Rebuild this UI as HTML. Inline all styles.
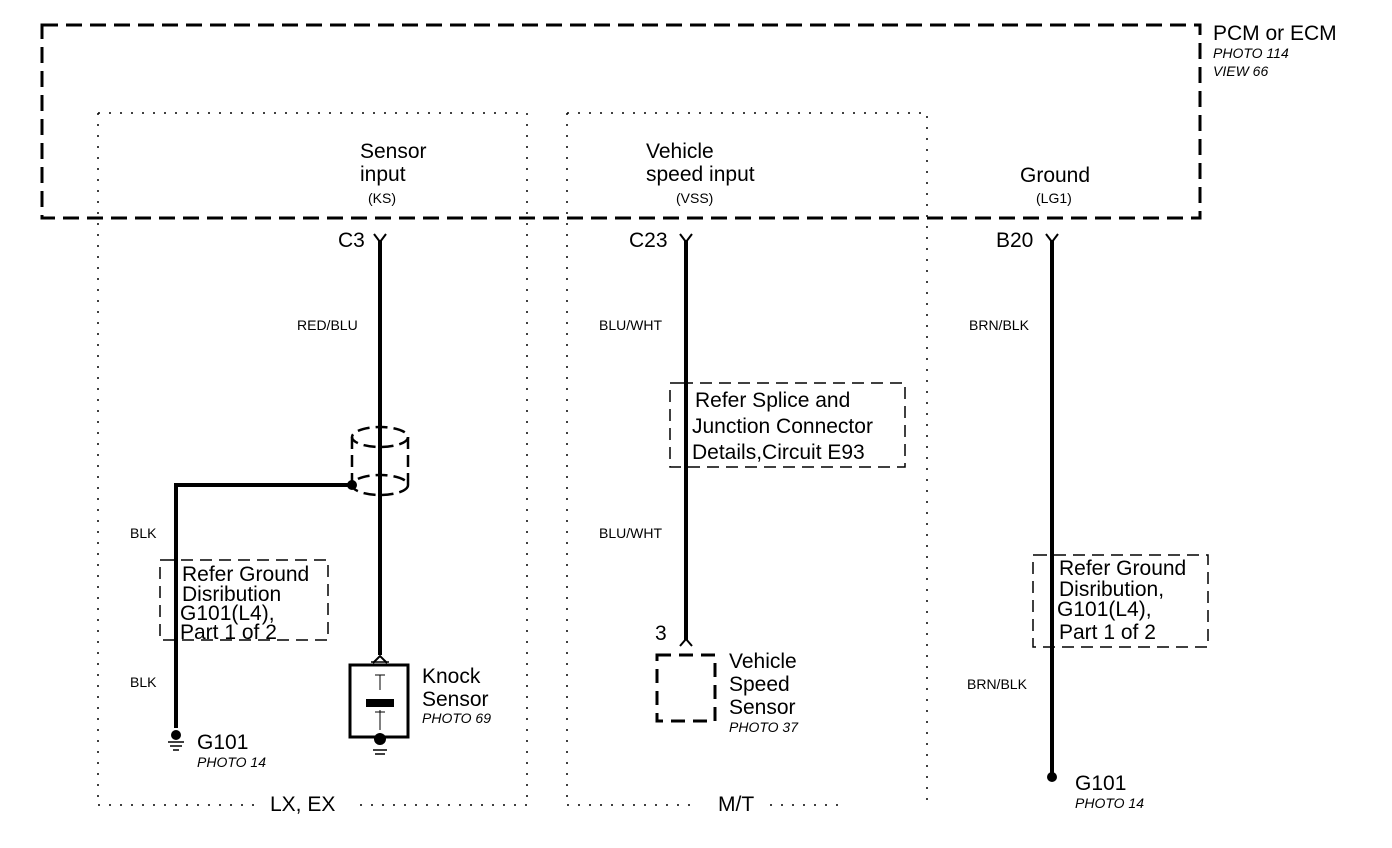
<!DOCTYPE html>
<html><head><style>
body{margin:0;background:#fff}
svg{display:block}
text{font-family:"Liberation Sans",sans-serif;fill:#000}
.s{font-size:21px}
.m{font-size:14px}
.i{font-size:14px;font-style:italic}
</style></head><body>
<svg width="1392" height="848" viewBox="0 0 1392 848">
<g fill="none" stroke="#000">
<rect x="42" y="25" width="1158" height="193" stroke-width="3" stroke-dasharray="16,8"/>
<path d="M98 113V805M98 113H527V805M567 113V805M567 113H927V805M98 805H260M360 805H527M567 805H690M770 805H845" stroke-width="1.5" stroke-dasharray="2,9"/>
<path d="M380 240V655M686 240V640M1052 240V775M176 728V485H352" stroke-width="4"/>
<path d="M374 234L380 242L386 234M680 234L686 242L692 234M1046 234L1052 242L1058 234" stroke-width="2"/>
<path d="M373 663L380 656L387 663M680 646L686 639L692 646" stroke-width="2"/>
<g stroke-width="2.5" stroke-dasharray="12,6">
<ellipse cx="380" cy="437" rx="28" ry="10"/>
<ellipse cx="380" cy="485" rx="28" ry="10"/>
<path d="M352 437V485M408 437V485"/>
</g>
<rect x="350" y="665" width="58" height="72" stroke-width="3"/>
<path d="M380 675V690M375 675H385M380 710V730M375 712H385" stroke-width="1"/>
<path d="M371 662H389M373 750H387M375 754H385" stroke-width="1.5"/>
<rect x="657" y="655" width="58" height="66" stroke-width="3" stroke-dasharray="14,8"/>
<path d="M168 742H184M170 746H182M173 750H179" stroke-width="1.5"/>
<g stroke-width="1.5" stroke-dasharray="12,7">
<path d="M172 560H160V640H328V560H172"/>
<path d="M682 383H670V467H905V383H682"/>
<path d="M1045 555H1033V647H1208V555H1045"/>
</g>
</g>
<circle cx="352" cy="485" r="5"/>
<circle cx="176" cy="735" r="5"/>
<circle cx="380" cy="739" r="6"/>
<circle cx="1052" cy="777" r="5"/>
<rect x="366" y="699" width="28" height="8"/>
<text class="s" x="1213" y="40" font-size="22">PCM or ECM</text>
<text class="i" x="1213" y="58" font-size="13">PHOTO 114</text>
<text class="i" x="1213" y="76" font-size="13">VIEW 66</text>
<text class="s" x="360" y="158">Sensor</text>
<text class="s" x="360" y="181">input</text>
<text class="m" x="368" y="203" font-size="13">(KS)</text>
<text class="s" x="646" y="158">Vehicle</text>
<text class="s" x="646" y="181">speed input</text>
<text class="m" x="676" y="203" font-size="13">(VSS)</text>
<text class="s" x="1020" y="182">Ground</text>
<text class="m" x="1036" y="203" font-size="13">(LG1)</text>
<text class="s" x="338" y="247">C3</text>
<text class="s" x="629" y="247">C23</text>
<text class="s" x="996" y="247">B20</text>
<text class="m" x="297" y="330">RED/BLU</text>
<text class="m" x="599" y="330">BLU/WHT</text>
<text class="m" x="969" y="330">BRN/BLK</text>
<text class="m" x="130" y="538">BLK</text>
<text class="m" x="599" y="538">BLU/WHT</text>
<text class="m" x="130" y="687">BLK</text>
<text class="m" x="967" y="689">BRN/BLK</text>
<text class="s" x="695" y="407" font-size="22">Refer Splice and</text>
<text class="s" x="692" y="433" font-size="22">Junction Connector</text>
<text class="s" x="692" y="459" font-size="22">Details,Circuit E93</text>
<text class="s" x="182" y="581" font-size="20">Refer Ground</text>
<text class="s" x="182" y="601" font-size="20">Disribution</text>
<text class="s" x="180" y="620" font-size="20">G101(L4),</text>
<text class="s" x="180" y="639" font-size="20">Part 1 of 2</text>
<text class="s" x="1059" y="575" font-size="20">Refer Ground</text>
<text class="s" x="1059" y="596" font-size="20">Disribution,</text>
<text class="s" x="1057" y="616" font-size="20">G101(L4),</text>
<text class="s" x="1059" y="639" font-size="20">Part 1 of 2</text>
<text class="s" x="422" y="683">Knock</text>
<text class="s" x="422" y="706">Sensor</text>
<text class="i" x="422" y="723">PHOTO 69</text>
<text class="s" x="655" y="640">3</text>
<text class="s" x="729" y="668">Vehicle</text>
<text class="s" x="729" y="691">Speed</text>
<text class="s" x="729" y="714">Sensor</text>
<text class="i" x="729" y="732">PHOTO 37</text>
<text class="s" x="197" y="749">G101</text>
<text class="i" x="197" y="767">PHOTO 14</text>
<text class="s" x="1075" y="790">G101</text>
<text class="i" x="1075" y="808">PHOTO 14</text>
<text class="s" x="270" y="811">LX, EX</text>
<text class="s" x="718" y="811">M/T</text>
</svg>
</body></html>
